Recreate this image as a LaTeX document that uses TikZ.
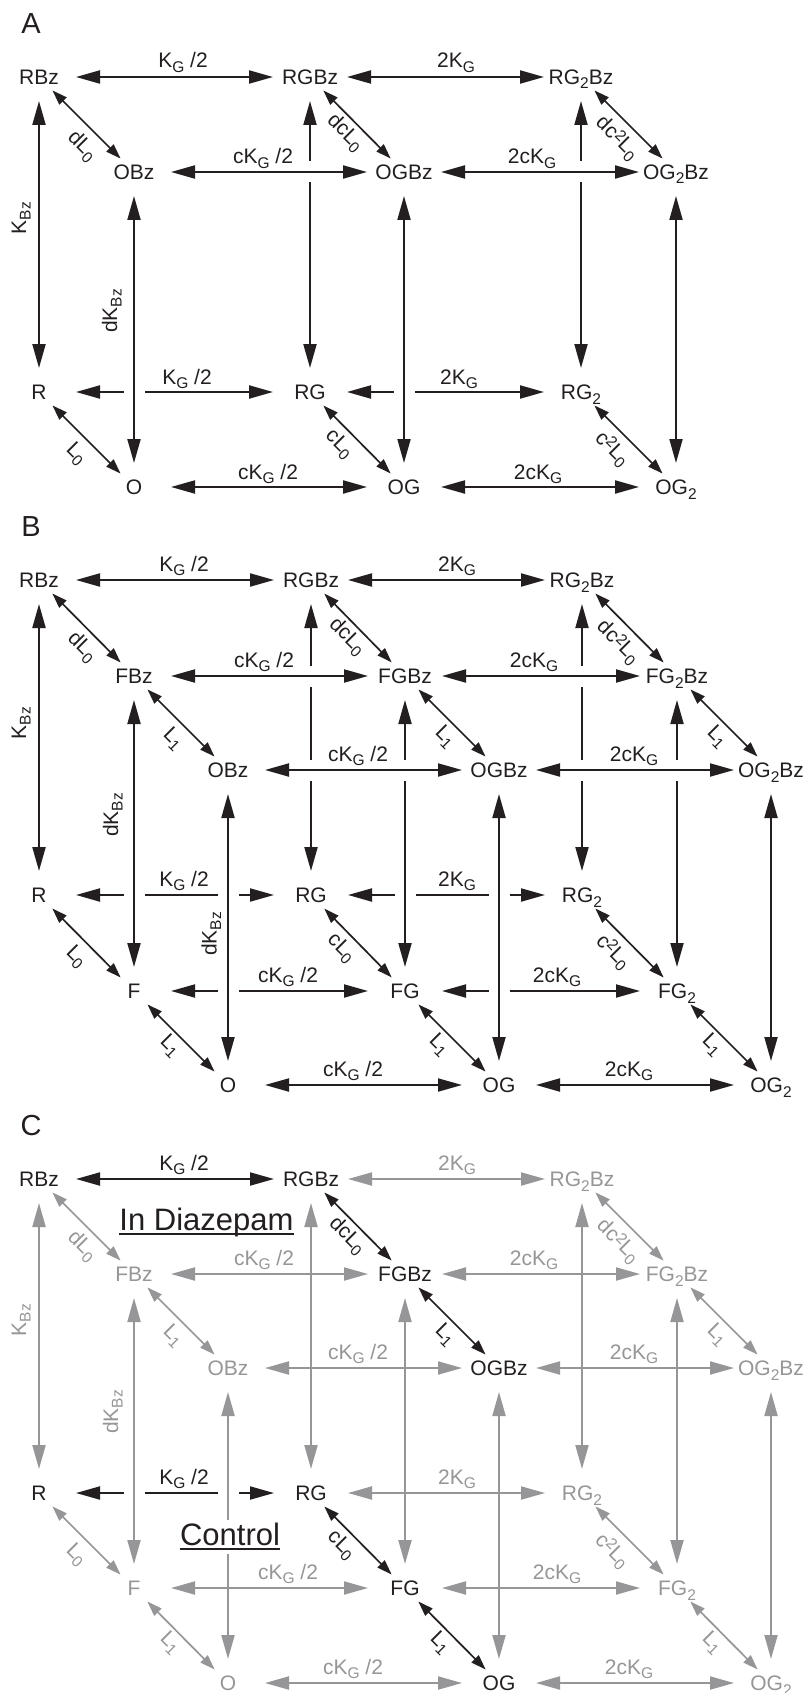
\documentclass[tikz,border=0pt]{standalone}
\usepackage{fontspec}
\setmainfont{Liberation Sans}
\usetikzlibrary{arrows.meta}
\definecolor{ink}{RGB}{35,31,32}
\definecolor{gry}{RGB}{150,150,153}
\newcommand{\sbs}[1]{\raisebox{-4.5pt}{\fontsize{15.5}{15.5}\selectfont #1}}
\newcommand{\sps}[1]{\raisebox{5pt}{\fontsize{15.5}{15.5}\selectfont #1}}
\newcommand{\fmain}{\fontsize{21}{25}\selectfont}
\newcommand{\cpt}[2]{\coordinate (#1) at (#2);}
\newcommand{\tx}[3][]{\node[txt,#1] (#2t) at ([yshift=-7.5pt]#2) {#3};}
\begin{document}
\begin{tikzpicture}[x=1pt, y=-1pt, color=ink,
  every node/.style={inner sep=0pt},
  txt/.style={font=\fmain, anchor=base},
  lbl/.style={font=\fmain, anchor=base},
  dlbl/.style={font=\fmain, rotate=-45, anchor=center},
  vlbl/.style={font=\fmain, rotate=90, anchor=base},
  ltr/.style={font=\fontsize{29}{32}\selectfont},
  big/.style={font=\fontsize{31}{36}\selectfont, anchor=base},
  gr/.style={text=gry},
  ar/.style={line width=2pt, {Triangle[length=24pt,width=13pt]}-{Triangle[length=24pt,width=13pt]}},
  harr/.style={ar, shorten <=37pt, shorten >=37pt},
  varr/.style={ar, shorten <=24pt, shorten >=24pt},
  darr/.style={line width=1.7pt, {Triangle[length=15pt,width=10pt]}-{Triangle[length=15pt,width=10pt]}, shorten <=19pt, shorten >=19pt},
  hul/.style={draw=white, line width=21pt, shorten <=45pt, shorten >=45pt},
  vul/.style={draw=white, line width=21pt, shorten <=30pt, shorten >=30pt},
]
\useasboundingbox[fill=white] (0,0) rectangle (806,1693);

%================ PANEL A ================
\cpt{aRBz}{39,77} \cpt{aRGBz}{310,77} \cpt{aRGGBz}{581,77}
\cpt{aOBz}{134,172} \cpt{aOGBz}{404,172} \cpt{aOGGBz}{676,172}
\cpt{aR}{39,392} \cpt{aRG}{310,392} \cpt{aRGG}{581,392}
\cpt{aO}{134,487} \cpt{aOG}{404,487} \cpt{aOGG}{676,487}
% back
\draw[harr] (aRBz) -- (aRGBz);
\draw[harr] (aRGBz) -- (aRGGBz);
\draw[harr] (aR) -- (aRG);
\draw[harr] (aRG) -- (aRGG);
\draw[varr] (aRBz) -- (aR);
\draw[varr] (aRGBz) -- (aRG);
\draw[varr] (aRGGBz) -- (aRGG);
% front
\draw[hul] (aOBz) -- (aOGBz);
\draw[hul] (aOGBz) -- (aOGGBz);
\draw[vul] (aOBz) -- (aO);
\draw[vul] (aOGBz) -- (aOG);
\draw[harr] (aOBz) -- (aOGBz);
\draw[harr] (aOGBz) -- (aOGGBz);
\draw[harr] (aO) -- (aOG);
\draw[harr] (aOG) -- (aOGG);
\draw[varr] (aOBz) -- (aO);
\draw[varr] (aOGBz) -- (aOG);
\draw[varr] (aOGGBz) -- (aOGG);
% diagonals
\draw[darr] (aRBz) -- (aOBz);
\draw[darr] (aRGBz) -- (aOGBz);
\draw[darr] (aRGGBz) -- (aOGGBz);
\draw[darr] (aR) -- (aO);
\draw[darr] (aRG) -- (aOG);
\draw[darr] (aRGG) -- (aOGG);
% texts
\node[ltr] (lA) at (31,24) {A};
\tx{aRBz}{RBz} \tx{aRGBz}{RGBz} \tx{aRGGBz}{RG\sbs{2}Bz}
\tx{aOBz}{OBz} \tx{aOGBz}{OGBz} \tx{aOGGBz}{OG\sbs{2}Bz}
\tx{aR}{R} \tx{aRG}{RG} \tx{aRGG}{RG\sbs{2}}
\tx{aO}{O} \tx{aOG}{OG} \tx{aOGG}{OG\sbs{2}}
\node[lbl] (aL1) at (183,68) {K\sbs{G} /2};
\node[lbl] (aL2) at (456,68) {2K\sbs{G}};
\node[lbl] (aL3) at (263,164) {cK\sbs{G} /2};
\node[lbl] (aL4) at (532,164) {2cK\sbs{G}};
\node[lbl] (aL5) at (187,384) {K\sbs{G} /2};
\node[lbl] (aL6) at (459,384) {2K\sbs{G}};
\node[lbl] (aL7) at (268,479) {cK\sbs{G} /2};
\node[lbl] (aL8) at (538,479) {2cK\sbs{G}};
\node[vlbl] (aV1) at (26,218) {K\sbs{Bz}};
\node[vlbl] (aV2) at (117,311) {dK\sbs{Bz}};
\node[dlbl] (aD1) at (82,146) {dL\sbs{0}};
\node[dlbl] (aD2) at (345,133) {dcL\sbs{0}};
\node[dlbl] (aD3) at (617,138) {dc\sps{2}L\sbs{0}};
\node[dlbl] (aD4) at (76,454) {L\sbs{0}};
\node[dlbl] (aD5) at (339,444) {cL\sbs{0}};
\node[dlbl] (aD6) at (612,449) {c\sps{2}L\sbs{0}};

%================ PANEL B ================
\cpt{bRBz}{39,580} \cpt{bRGBz}{311,580} \cpt{bRGGBz}{582,580}
\cpt{bR}{39,895} \cpt{bRG}{311,895} \cpt{bRGG}{582,895}
\cpt{bFBz}{134,676} \cpt{bFGBz}{405,676} \cpt{bFGGBz}{677,676}
\cpt{bF}{134,991} \cpt{bFG}{405,991} \cpt{bFGG}{677,991}
\cpt{bOBz}{228,770} \cpt{bOGBz}{499,770} \cpt{bOGGBz}{771,770}
\cpt{bO}{228,1085} \cpt{bOG}{499,1085} \cpt{bOGG}{771,1085}
% back
\draw[harr] (bRBz) -- (bRGBz);
\draw[harr] (bRGBz) -- (bRGGBz);
\draw[harr] (bR) -- (bRG);
\draw[harr] (bRG) -- (bRGG);
\draw[varr] (bRBz) -- (bR);
\draw[varr] (bRGBz) -- (bRG);
\draw[varr] (bRGGBz) -- (bRGG);
% middle
\draw[hul] (bFBz) -- (bFGBz);
\draw[hul] (bFGBz) -- (bFGGBz);
\draw[vul] (bFBz) -- (bF);
\draw[vul] (bFGBz) -- (bFG);
\draw[harr] (bFBz) -- (bFGBz);
\draw[harr] (bFGBz) -- (bFGGBz);
\draw[harr] (bF) -- (bFG);
\draw[harr] (bFG) -- (bFGG);
\draw[varr] (bFBz) -- (bF);
\draw[varr] (bFGBz) -- (bFG);
\draw[varr] (bFGGBz) -- (bFGG);
% front
\draw[hul] (bOBz) -- (bOGBz);
\draw[hul] (bOGBz) -- (bOGGBz);
\draw[vul] (bOBz) -- (bO);
\draw[vul] (bOGBz) -- (bOG);
\draw[harr] (bOBz) -- (bOGBz);
\draw[harr] (bOGBz) -- (bOGGBz);
\draw[harr] (bO) -- (bOG);
\draw[harr] (bOG) -- (bOGG);
\draw[varr] (bOBz) -- (bO);
\draw[varr] (bOGBz) -- (bOG);
\draw[varr] (bOGGBz) -- (bOGG);
% diagonals
\draw[darr] (bRBz) -- (bFBz);
\draw[darr] (bFBz) -- (bOBz);
\draw[darr] (bRGBz) -- (bFGBz);
\draw[darr] (bFGBz) -- (bOGBz);
\draw[darr] (bRGGBz) -- (bFGGBz);
\draw[darr] (bFGGBz) -- (bOGGBz);
\draw[darr] (bR) -- (bF);
\draw[darr] (bF) -- (bO);
\draw[darr] (bRG) -- (bFG);
\draw[darr] (bFG) -- (bOG);
\draw[darr] (bRGG) -- (bFGG);
\draw[darr] (bFGG) -- (bOGG);
% texts
\node[ltr] (lB) at (31,527) {B};
\tx{bRBz}{RBz} \tx{bRGBz}{RGBz} \tx{bRGGBz}{RG\sbs{2}Bz}
\tx{bFBz}{FBz} \tx{bFGBz}{FGBz} \tx{bFGGBz}{FG\sbs{2}Bz}
\tx{bOBz}{OBz} \tx{bOGBz}{OGBz} \tx{bOGGBz}{OG\sbs{2}Bz}
\tx{bR}{R} \tx{bRG}{RG} \tx{bRGG}{RG\sbs{2}}
\tx{bF}{F} \tx{bFG}{FG} \tx{bFGG}{FG\sbs{2}}
\tx{bO}{O} \tx{bOG}{OG} \tx{bOGG}{OG\sbs{2}}
\node[lbl] (bL1) at (184,571) {K\sbs{G} /2};
\node[lbl] (bL2) at (457,571) {2K\sbs{G}};
\node[lbl] (bL3) at (264,667) {cK\sbs{G} /2};
\node[lbl] (bL4) at (534,667) {2cK\sbs{G}};
\node[lbl] (bL5) at (358,761) {cK\sbs{G} /2};
\node[lbl] (bL6) at (634,761) {2cK\sbs{G}};
\node[lbl] (bL7) at (184,886) {K\sbs{G} /2};
\node[lbl] (bL8) at (457,886) {2K\sbs{G}};
\node[lbl] (bL9) at (288,982) {cK\sbs{G} /2};
\node[lbl] (bL10) at (557,982) {2cK\sbs{G}};
\node[lbl] (bL11) at (353,1076) {cK\sbs{G} /2};
\node[lbl] (bL12) at (629,1076) {2cK\sbs{G}};
\node[vlbl] (bV1) at (26,723) {K\sbs{Bz}};
\node[vlbl] (bV2) at (118,815) {dK\sbs{Bz}};
\node[vlbl] (bV3) at (216.5,934) {dK\sbs{Bz}};
\node[dlbl] (bD1) at (82,647) {dL\sbs{0}};
\node[dlbl] (bD2) at (347,637) {dcL\sbs{0}};
\node[dlbl] (bD3) at (618,642) {dc\sps{2}L\sbs{0}};
\node[dlbl] (bD4) at (173,739) {L\sbs{1}};
\node[dlbl] (bD5) at (445,737) {L\sbs{1}};
\node[dlbl] (bD6) at (717,737) {L\sbs{1}};
\node[dlbl] (bD7) at (76,957) {L\sbs{0}};
\node[dlbl] (bD8) at (341,948) {cL\sbs{0}};
\node[dlbl] (bD9) at (613,952) {c\sps{2}L\sbs{0}};
\node[dlbl] (bD10) at (170,1046) {L\sbs{1}};
\node[dlbl] (bD11) at (439,1045) {L\sbs{1}};
\node[dlbl] (bD12) at (712,1045) {L\sbs{1}};

%================ PANEL C ================
\cpt{cRBz}{39,1179} \cpt{cRGBz}{311,1179} \cpt{cRGGBz}{582,1179}
\cpt{cR}{39,1493} \cpt{cRG}{311,1493} \cpt{cRGG}{582,1493}
\cpt{cFBz}{134,1274} \cpt{cFGBz}{405,1274} \cpt{cFGGBz}{677,1274}
\cpt{cF}{134,1588} \cpt{cFG}{405,1588} \cpt{cFGG}{677,1588}
\cpt{cOBz}{228,1368} \cpt{cOGBz}{499,1368} \cpt{cOGGBz}{771,1368}
\cpt{cO}{228,1683} \cpt{cOG}{499,1683} \cpt{cOGG}{771,1683}
% black back edges
\draw[harr] (cRBz) -- (cRGBz);
\draw[harr] (cR) -- (cRG);
\draw[vul] (cFBz) -- (cF);
\draw[vul] (cOBz) -- (cO);
% grey edges
\begin{scope}[gry]
\draw[harr] (cRGBz) -- (cRGGBz);
\draw[harr] (cRG) -- (cRGG);
\draw[varr] (cRBz) -- (cR);
\draw[varr] (cRGBz) -- (cRG);
\draw[varr] (cRGGBz) -- (cRGG);
\draw[harr] (cFBz) -- (cFGBz);
\draw[harr] (cFGBz) -- (cFGGBz);
\draw[harr] (cF) -- (cFG);
\draw[harr] (cFG) -- (cFGG);
\draw[varr] (cFBz) -- (cF);
\draw[varr] (cFGBz) -- (cFG);
\draw[varr] (cFGGBz) -- (cFGG);
\draw[harr] (cOBz) -- (cOGBz);
\draw[harr] (cOGBz) -- (cOGGBz);
\draw[harr] (cO) -- (cOG);
\draw[harr] (cOG) -- (cOGG);
\draw[varr] (cOBz) -- (cO);
\draw[varr] (cOGBz) -- (cOG);
\draw[varr] (cOGGBz) -- (cOGG);
\draw[darr] (cRBz) -- (cFBz);
\draw[darr] (cFBz) -- (cOBz);
\draw[darr] (cRGGBz) -- (cFGGBz);
\draw[darr] (cFGGBz) -- (cOGGBz);
\draw[darr] (cR) -- (cF);
\draw[darr] (cF) -- (cO);
\draw[darr] (cRGG) -- (cFGG);
\draw[darr] (cFGG) -- (cOGG);
\end{scope}
% black diagonals
\draw[darr] (cRGBz) -- (cFGBz);
\draw[darr] (cFGBz) -- (cOGBz);
\draw[darr] (cRG) -- (cFG);
\draw[darr] (cFG) -- (cOG);
% texts
\node[ltr] (lC) at (31,1126) {C};
\tx{cRBz}{RBz} \tx{cRGBz}{RGBz} \tx[gr]{cRGGBz}{RG\sbs{2}Bz}
\tx[gr]{cFBz}{FBz} \tx{cFGBz}{FGBz} \tx[gr]{cFGGBz}{FG\sbs{2}Bz}
\tx[gr]{cOBz}{OBz} \tx{cOGBz}{OGBz} \tx[gr]{cOGGBz}{OG\sbs{2}Bz}
\tx{cR}{R} \tx{cRG}{RG} \tx[gr]{cRGG}{RG\sbs{2}}
\tx[gr]{cF}{F} \tx{cFG}{FG} \tx[gr]{cFGG}{FG\sbs{2}}
\tx[gr]{cO}{O} \tx{cOG}{OG} \tx[gr]{cOGG}{OG\sbs{2}}
\node[lbl] (cL1) at (184,1170) {K\sbs{G} /2};
\node[lbl,gr] (cL2) at (457,1170) {2K\sbs{G}};
\node[lbl,gr] (cL3) at (264,1265) {cK\sbs{G} /2};
\node[lbl,gr] (cL4) at (534,1265) {2cK\sbs{G}};
\node[lbl,gr] (cL5) at (358,1359) {cK\sbs{G} /2};
\node[lbl,gr] (cL6) at (634,1359) {2cK\sbs{G}};
\node[lbl] (cL7) at (184,1484) {K\sbs{G} /2};
\node[lbl,gr] (cL8) at (457,1484) {2K\sbs{G}};
\node[lbl,gr] (cL9) at (288,1579) {cK\sbs{G} /2};
\node[lbl,gr] (cL10) at (557,1579) {2cK\sbs{G}};
\node[lbl,gr] (cL11) at (353,1674) {cK\sbs{G} /2};
\node[lbl,gr] (cL12) at (629,1674) {2cK\sbs{G}};
\node[vlbl,gr] (cV1) at (26,1320) {K\sbs{Bz}};
\node[vlbl,gr] (cV2) at (118,1412) {dK\sbs{Bz}};
\node[dlbl,gr] (cD1) at (82,1246) {dL\sbs{0}};
\node[dlbl] (cD2) at (347,1236) {dcL\sbs{0}};
\node[dlbl,gr] (cD3) at (618,1241) {dc\sps{2}L\sbs{0}};
\node[dlbl,gr] (cD4) at (173,1336) {L\sbs{1}};
\node[dlbl] (cD5) at (445,1335) {L\sbs{1}};
\node[dlbl,gr] (cD6) at (717,1335) {L\sbs{1}};
\node[dlbl,gr] (cD7) at (76,1555) {L\sbs{0}};
\node[dlbl] (cD8) at (341,1545) {cL\sbs{0}};
\node[dlbl,gr] (cD9) at (612,1551) {c\sps{2}L\sbs{0}};
\node[dlbl,gr] (cD10) at (170,1643) {L\sbs{1}};
\node[dlbl] (cD11) at (440,1643) {L\sbs{1}};
\node[dlbl,gr] (cD12) at (712,1643) {L\sbs{1}};
% captions
\node[big] (diaz) at (206.5,1230) {In Diazepam};
\draw[line width=1.8pt] ([yshift=-4pt]diaz.base west) -- ([yshift=-4pt]diaz.base east);
\node[big, fill=white, inner xsep=2pt, inner ysep=3pt, text depth=6pt] (ctrl) at (230,1545) {Control};
\draw[line width=1.8pt] ([yshift=-4pt,xshift=2pt]ctrl.base west) -- ([yshift=-4pt,xshift=-2pt]ctrl.base east);
\end{tikzpicture}
\end{document}
